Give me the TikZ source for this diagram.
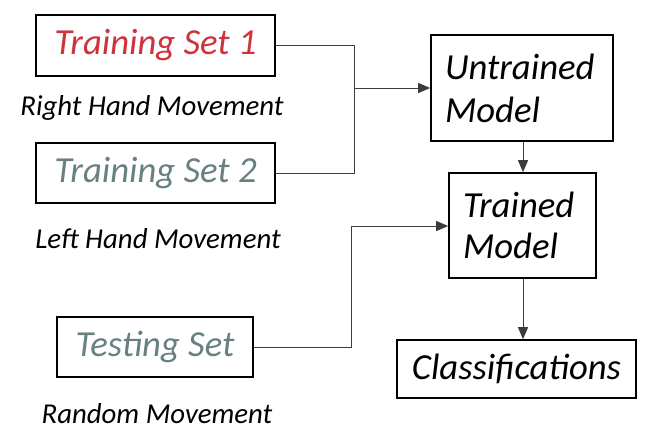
\documentclass[tikz,border=0pt]{standalone}
\usepackage{fontspec}
\setmainfont{Carlito}
\usetikzlibrary{arrows.meta}
\definecolor{setred}{RGB}{206,50,58}
\definecolor{setgrey}{RGB}{105,128,128}
\definecolor{lineg}{RGB}{60,60,60}
\tikzset{
  box/.style={draw=black, line width=1.6pt, rectangle, inner sep=0pt, font=\fontsize{36.7}{43}\selectfont\itshape},
  sub/.style={font=\fontsize{28.8}{32}\selectfont\itshape, inner sep=0pt},
  conn/.style={draw=lineg, line width=1pt},
  arr/.style={conn, -{Triangle[length=12pt,width=10pt]}},
}
\begin{document}
\begin{tikzpicture}[x=1pt,y=-1pt]
\useasboundingbox[fill=white] (0,0) rectangle (666,444);
% boxes
\node[box, minimum width=239pt, minimum height=61pt, text=setred] (ts1) at (155.5,45.5) {Training Set 1};
\node[sub] (rhm) at (152,108) {Right Hand Movement};
\node[box, minimum width=239pt, minimum height=60pt, text=setgrey] (ts2) at (155.5,173) {Training Set 2};
\node[sub] (lhm) at (158,239) {Left Hand Movement};
\node[box, minimum width=196pt, minimum height=60pt, text=setgrey] (test) at (155,347) {Testing Set};
\node[sub] (rm) at (157,414) {Random Movement};
\node[box, minimum width=182pt, minimum height=106pt, text width=154pt, align=left, inner xsep=14pt, font=\fontsize{36.7}{43}\selectfont\itshape] (untr) at (522,88) {Untrained\\Model};
\node[box, minimum width=147pt, minimum height=105pt, text width=119pt, align=left, inner xsep=14pt, font=\fontsize{36.7}{41}\selectfont\itshape] (trn) at (522.5,225.5) {Trained\\Model};
\node[box, minimum width=239pt, minimum height=58pt] (cls) at (516.5,369) {Classifications};
% junction coordinates
\coordinate (j1) at (354,46);
\coordinate (j2) at (354,173);
\coordinate (j3) at (354,88);
\coordinate (k1) at (351,347);
\coordinate (k2) at (351,226);
% connectors
\draw[conn] (ts1.east |- j1) -- (j1) -- (j2) -- (ts2.east |- j2);
\draw[arr] (j3) -- (j3 -| untr.west);
\draw[arr] (untr.south -| 523,0) -- (trn.north -| 523,0);
\draw[conn] (test.east |- k1) -- (k1) -- (k2);
\draw[arr] (k2) -- (k2 -| trn.west);
\draw[arr] (trn.south -| 523,0) -- (cls.north -| 523,0);
\end{tikzpicture}
\end{document}
